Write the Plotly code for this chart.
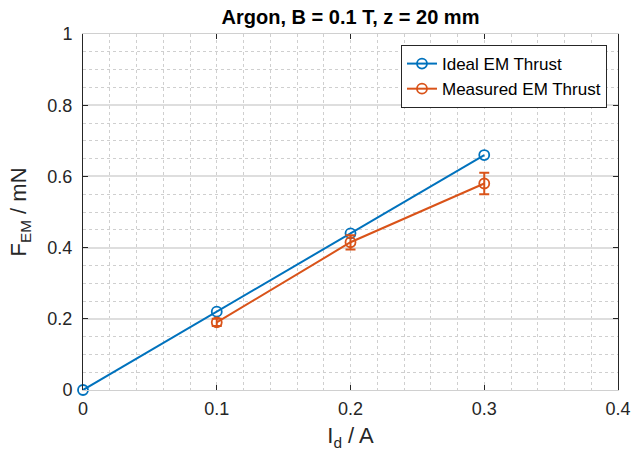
import plotly.graph_objects as go

# Discharge current (A) and electromagnetic thrust (mN)
current_ideal = [0.0, 0.1, 0.2, 0.3]
thrust_ideal = [0.0, 0.22, 0.44, 0.66]

current_meas = [0.1, 0.2, 0.3]
thrust_meas = [0.19, 0.415, 0.58]
thrust_meas_err = [0.01, 0.02, 0.03]

x_ticks = [0, 0.1, 0.2, 0.3, 0.4]
y_ticks = [0, 0.2, 0.4, 0.6, 0.8, 1]

BLUE = "#0072BD"
ORANGE = "#D95319"
FONT = "Liberation Sans, Arial, sans-serif"
DARK = "#262626"
GRID = "#dedede"
MINOR = "#cfcfcf"

fig = go.Figure()

fig.add_trace(go.Scatter(
    x=current_ideal, y=thrust_ideal, mode="lines+markers",
    name="Ideal EM Thrust",
    line=dict(color=BLUE, width=2),
    marker=dict(symbol="circle-open", size=10, color=BLUE, line=dict(width=1.8, color=BLUE)),
    cliponaxis=False,
))

fig.add_trace(go.Scatter(
    x=current_meas, y=thrust_meas, mode="lines+markers",
    name="Measured EM Thrust",
    line=dict(color=ORANGE, width=2),
    marker=dict(symbol="circle-open", size=10, color=ORANGE, line=dict(width=1.8, color=ORANGE)),
    error_y=dict(type="data", array=thrust_meas_err, visible=True,
                 color=ORANGE, thickness=2, width=5),
    cliponaxis=False,
))

fig.update_layout(
    width=633, height=455,
    margin=dict(l=83, r=15, t=34, b=65, autoexpand=False),
    paper_bgcolor="white", plot_bgcolor="white",
    font=dict(family=FONT, color=DARK),
    title=dict(text="<b>Argon, B = 0.1 T, z = 20 mm</b>",
               x=(83 + 618) / 2 / 633, xanchor="center",
               y=1 - 17 / 455, yanchor="middle",
               font=dict(size=20, color="black", family=FONT)),
    showlegend=True,
    legend=dict(
        x=0.9794, xanchor="right", y=0.969, yanchor="top",
        bgcolor="white", bordercolor=DARK, borderwidth=1,
        font=dict(size=17, color="black", family=FONT),
        tracegroupgap=0,
    ),
)

fig.update_xaxes(
    range=[0, 0.4], tickvals=x_ticks, ticktext=["0", "0.1", "0.2", "0.3", "0.4"],
    ticks="inside", ticklen=5, tickcolor=DARK, tickwidth=1,
    tickfont=dict(size=18, color=DARK), ticklabelstandoff=2,
    showline=True, linecolor="#d0d0d0", linewidth=1, mirror="ticks",
    showgrid=True, gridcolor=MINOR, griddash="dot", gridwidth=1,
    zeroline=False, automargin=False,
    minor=dict(dtick=0.02, showgrid=True, gridcolor=MINOR, griddash="dot", gridwidth=1),
    title=dict(text="I<sub>d</sub> / A", font=dict(size=22, color=DARK), standoff=10),
)

fig.update_yaxes(
    range=[0, 1], tickvals=y_ticks, ticktext=["0", "0.2", "0.4", "0.6", "0.8", "1"],
    ticks="inside", ticklen=5, tickcolor=DARK, tickwidth=1,
    tickfont=dict(size=18, color=DARK), ticklabelstandoff=6,
    showline=True, linecolor=DARK, linewidth=1, mirror="ticks",
    showgrid=True, gridcolor=GRID, gridwidth=1.5,
    zeroline=False, automargin=False,
    minor=dict(dtick=0.05, showgrid=True, gridcolor=MINOR, griddash="dot", gridwidth=1),
    title=dict(text="F<sub>EM</sub> / mN", font=dict(size=22, color=DARK), standoff=14),
)

fig.write_html("out.html")
